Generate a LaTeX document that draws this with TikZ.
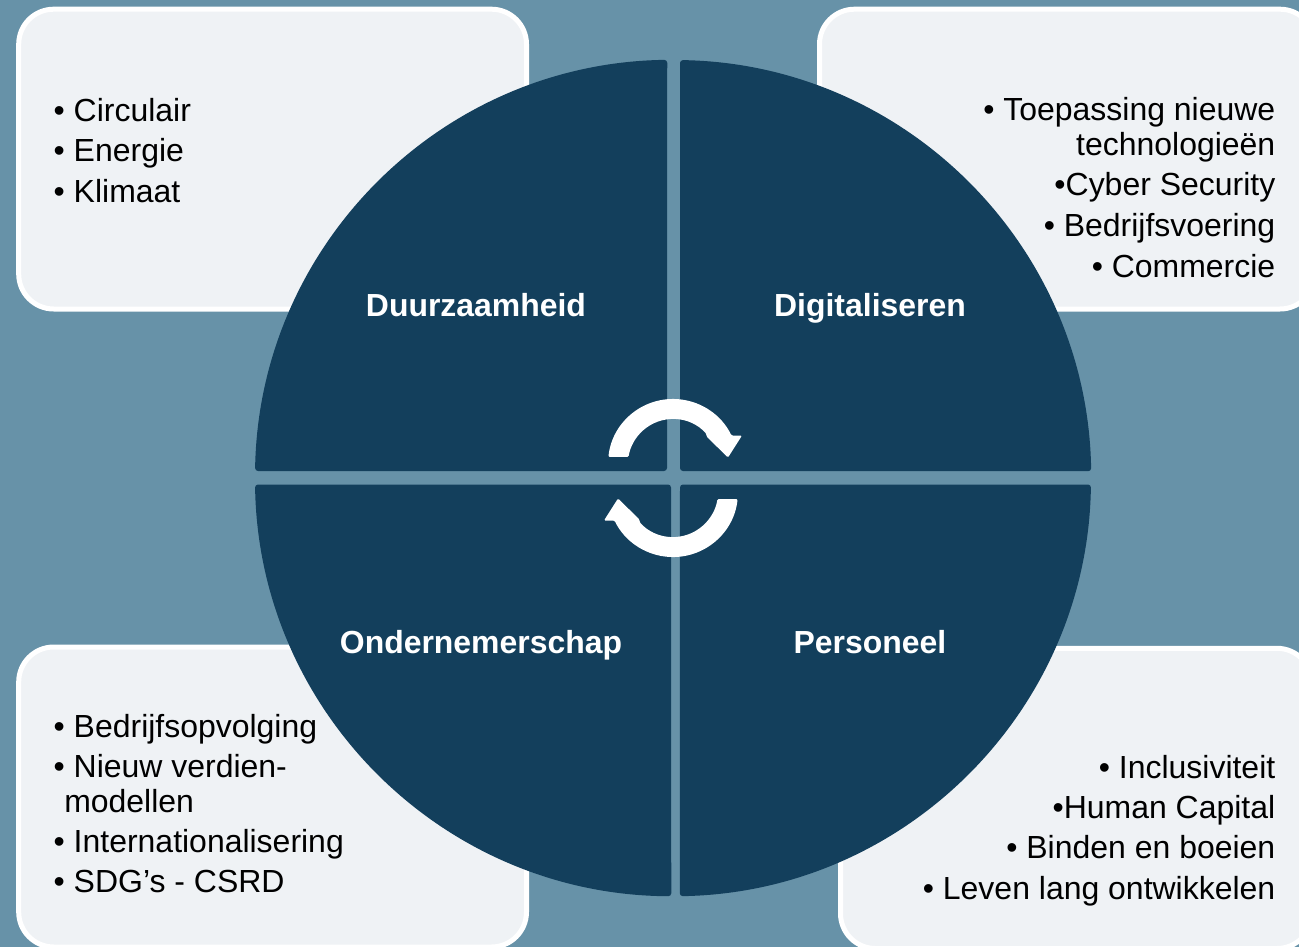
\documentclass[tikz,border=0pt]{standalone}
\usepackage{fontspec}
\setmainfont{Liberation Sans}
\definecolor{bgblue}{HTML}{6792A8}
\definecolor{darkblue}{HTML}{133F5C}
\definecolor{boxgrey}{HTML}{EFF2F5}
\tikzset{
  infobox/.style={draw=white,line width=.05cm,fill=boxgrey,rounded corners=.35cm},
  quadrant/.style={fill=darkblue,rounded corners=.03cm},
  cyclearrow/.style={fill=white,rounded corners=.012cm},
  heading/.style={text=white,inner sep=0pt,anchor=base,font=\bfseries\fontsize{9.08}{10}\selectfont},
  listleft/.style={inner sep=0pt,anchor=base west,align=left,font=\fontsize{9.09}{9.96}\selectfont},
  listright/.style={inner sep=0pt,anchor=base east,align=right,font=\fontsize{9.09}{9.96}\selectfont},
}
\begin{document}
\begin{tikzpicture}[x=.01cm,y=.01cm]
\clip (0,0) rectangle (1299,947);
\fill[bgblue] (0,0) rectangle (1299,947);

\draw[infobox] (18.7,937.8) rectangle (526.5,638);
\draw[infobox] (819.5,937.8) rectangle (1315,638);
\draw[infobox] (18.7,300) rectangle (526.5,0);
\draw[infobox] (840.5,298.7) rectangle (1312,-1.5);

\fill[quadrant] (667,476) -- (255.06,476) arc[start angle=179.04,end angle=90.82,radius=4.18cm] -- cycle;
\fill[quadrant] (680,476) -- (680,886.94) arc[start angle=89.04,end angle=.96,radius=4.18cm] -- cycle;
\fill[quadrant] (671,462.5) -- (255.05,462.5) arc[start angle=180.89,end angle=269.73,radius=4.18cm] -- cycle;
\fill[quadrant] (680,462.5) -- (1090.95,462.5) arc[start angle=-.89,end angle=-89.04,radius=4.18cm] -- cycle;

\foreach \rot in {0,180} {
  \begin{scope}[rotate around={\rot:(673,469)},shift={(673,483)}]
    \fill[cyclearrow] (173.8:65) arc[start angle=173.8,end angle=26,radius=.65cm]
      -- (69,28.5) -- (55,6.5) -- (33.5,27.5) -- (42:45)
      arc[start angle=42,end angle=171,radius=.45cm] -- cycle;
  \end{scope}
}

\node[heading] (duurzaam) at (476,631) {Duurzaamheid};
\node[heading] (digitaal) at (870,631) {Digitaliseren};
\node[heading] (ondernemer) at (481,294) {Ondernemerschap};
\node[heading] (personeel) at (870,294) {Personeel};

\node[listleft] (listduurzaam) at (53,744.5) {• Circulair\\[1.6pt]• Energie\\[1.6pt]• Klimaat};
\node[listright] (listdigitaal) at (1276,670) {• Toepassing nieuwe\\technologieën\\[1.6pt]•Cyber Security\\[1.6pt]• Bedrijfsvoering\\[1.6pt]• Commercie};
\node[listleft] (listondernemer) at (53,55) {• Bedrijfsopvolging\\[1.4pt]• Nieuw verdien-\\\hspace*{3pt}modellen\\[1.4pt]• Internationalisering\\[1.4pt]• SDG’s - CSRD};
\node[listright] (listpersoneel) at (1276,48) {• Inclusiviteit\\[1.5pt]•Human Capital\\[1.5pt]• Binden en boeien\\[1.5pt]• Leven lang ontwikkelen};
\end{tikzpicture}
\end{document}
